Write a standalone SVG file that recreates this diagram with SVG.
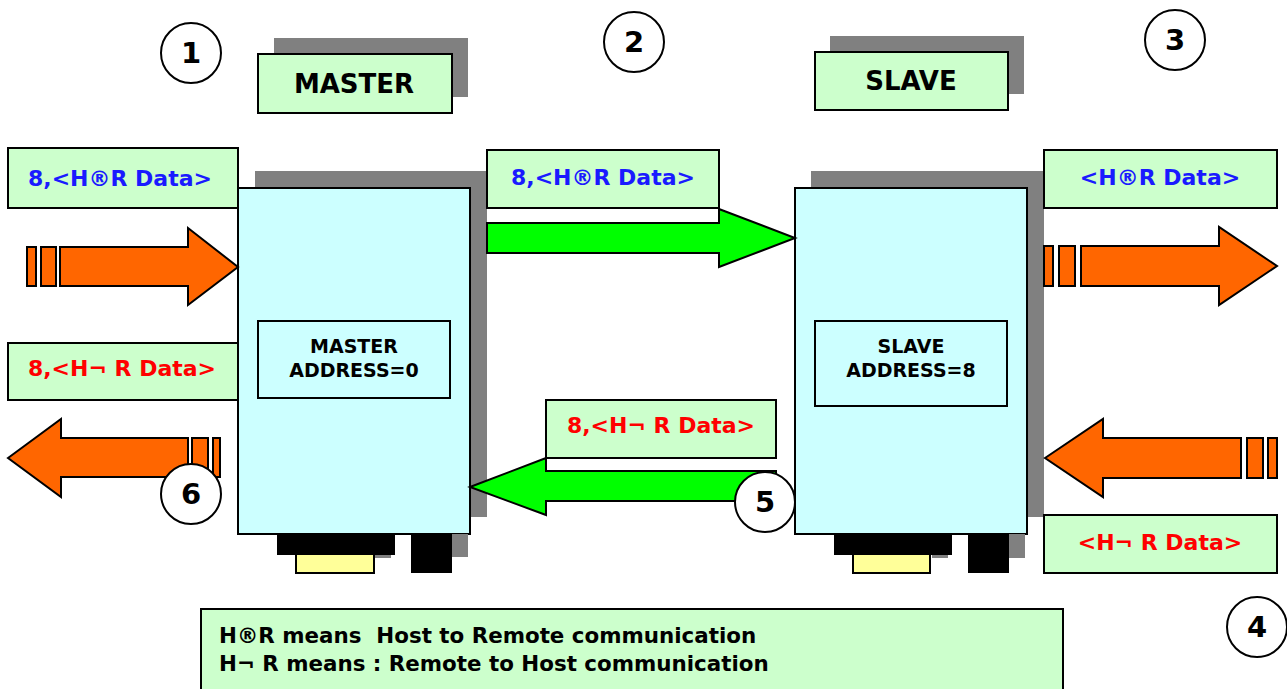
<svg xmlns="http://www.w3.org/2000/svg" width="1287" height="689" viewBox="0 0 1287 689">
<style>
.sh{fill:#808080;stroke:none}
.box{fill:#ccffff;stroke:#000;stroke-width:2}
.lbl{fill:#ccffcc;stroke:#000;stroke-width:2}
.blk{fill:#000;stroke:#000;stroke-width:1}
.yel{fill:#ffff99;stroke:#000;stroke-width:2}
.or{fill:#ff6600;stroke:#000;stroke-width:2;stroke-linejoin:miter}
.gr{fill:#00ff00;stroke:#000;stroke-width:2}
.circ{fill:#fff;stroke:#000;stroke-width:2}
text{font-family:"DejaVu Sans","Liberation Sans",sans-serif;font-weight:bold;text-anchor:middle}
.t-title{font-size:26px;fill:#000}
.t-in{font-size:19px;fill:#000}
.t-blue{font-size:22px;fill:#1a1aff}
.t-red{font-size:22px;fill:#ff0000}
.t-num{font-size:29px;fill:#000}
.t-leg{font-size:21.4px;fill:#000;text-anchor:start;white-space:pre}
</style>
<rect width="1287" height="689" fill="#fff"/>

<g id="master">
<rect class="sh" x="255" y="171" width="232" height="346"/>
<rect class="box" x="238" y="188" width="232" height="346"/>
<rect class="box" x="258" y="321" width="192" height="77"/>
<text class="t-in" x="354" y="353">MASTER</text>
<text class="t-in" x="354" y="377">ADDRESS=0</text>
<rect class="sh" x="375" y="550" width="16" height="8"/>
<rect class="blk" x="277.5" y="533.5" width="117" height="21"/>
<rect class="yel" x="296" y="554" width="78" height="19"/>
<rect class="sh" x="451" y="534" width="17" height="23"/>
<rect class="blk" x="411.5" y="534.5" width="40" height="38"/>
</g>

<g id="master-label">
<rect class="sh" x="274" y="38" width="194" height="59"/>
<rect class="lbl" x="258" y="54" width="194" height="59"/>
<text class="t-title" x="354" y="93">MASTER</text>
</g>

<g id="slave">
<rect class="sh" x="811" y="171" width="233" height="346"/>
<rect class="box" x="795" y="188" width="232" height="346"/>
<rect class="box" x="815" y="321" width="192" height="85"/>
<text class="t-in" x="911" y="353">SLAVE</text>
<text class="t-in" x="911" y="377">ADDRESS=8</text>
<rect class="sh" x="932" y="550" width="16" height="8"/>
<rect class="blk" x="834.5" y="533.5" width="117" height="21"/>
<rect class="yel" x="853" y="554" width="77" height="19"/>
<rect class="sh" x="1008" y="534" width="17" height="24"/>
<rect class="blk" x="968.5" y="534.5" width="40" height="38"/>
</g>

<g id="slave-label">
<rect class="sh" x="830" y="36" width="194" height="58"/>
<rect class="lbl" x="815" y="52" width="193" height="58"/>
<text class="t-title" x="911" y="90">SLAVE</text>
</g>

<g id="label-left-top">
<rect class="lbl" x="8" y="148" width="230" height="60"/>
<text class="t-blue" x="120" y="186">8,&lt;H®R Data&gt;</text>
</g>
<g id="label-left-mid">
<rect class="lbl" x="8" y="343" width="230" height="57"/>
<text class="t-red" x="122" y="376">8,&lt;H¬ R Data&gt;</text>
</g>
<g id="label-mid-top">
<rect class="lbl" x="487" y="150" width="232" height="58"/>
<text class="t-blue" x="603" y="185">8,&lt;H®R Data&gt;</text>
</g>
<g id="label-mid-bottom">
<rect class="lbl" x="546" y="400" width="230" height="58"/>
<text class="t-red" x="661" y="433">8,&lt;H¬ R Data&gt;</text>
</g>
<g id="label-right-top">
<rect class="lbl" x="1044" y="150" width="233" height="58"/>
<text class="t-blue" x="1160" y="185">&lt;H®R Data&gt;</text>
</g>
<g id="label-right-bottom">
<rect class="lbl" x="1044" y="515" width="233" height="58"/>
<text class="t-red" x="1160" y="550">&lt;H¬ R Data&gt;</text>
</g>

<g id="connectors">
<rect class="or" x="27" y="247" width="9" height="39"/>
<rect class="or" x="41" y="247" width="15" height="39"/>
<polygon class="or" points="60,247 188,247 188,228 238,267 188,305 188,286 60,286"/>
<polygon class="or" points="8,458 61,419 61,438 188,438 188,477 61,477 61,497"/>
<rect class="or" x="192" y="438" width="16" height="39"/>
<rect class="or" x="213" y="438" width="7" height="39"/>
<polygon class="gr" points="487,223 719,223 719,209 795,238 719,267 719,253 487,253"/>
<polygon class="gr" points="470,487 546,458 546,471 776,471 776,501 546,501 546,515"/>
<rect class="or" x="1044" y="246" width="9" height="40"/>
<rect class="or" x="1059" y="246" width="16" height="40"/>
<polygon class="or" points="1081,246 1219,246 1219,227 1277,266 1219,305 1219,286 1081,286"/>
<polygon class="or" points="1045,458 1103,419 1103,438 1241,438 1241,478 1103,478 1103,497"/>
<rect class="or" x="1247" y="438" width="16" height="40"/>
<rect class="or" x="1268" y="438" width="9" height="40"/>
</g>

<g id="step1"><circle class="circ" cx="191" cy="53" r="30"/><text class="t-num" x="191" y="63">1</text></g>
<g id="step2"><circle class="circ" cx="634" cy="42" r="30"/><text class="t-num" x="634" y="52">2</text></g>
<g id="step3"><circle class="circ" cx="1175" cy="40" r="30"/><text class="t-num" x="1175" y="50">3</text></g>
<g id="step4"><circle class="circ" cx="1257" cy="627" r="30"/><text class="t-num" x="1257" y="637">4</text></g>
<g id="step5"><circle class="circ" cx="765" cy="502" r="30"/><text class="t-num" x="765" y="512">5</text></g>
<g id="step6"><circle class="circ" cx="191" cy="494" r="30"/><text class="t-num" x="191" y="504">6</text></g>

<g id="legend">
<rect class="lbl" x="201" y="609" width="862" height="90"/>
<text class="t-leg" x="219" y="643" xml:space="preserve">H®R means  Host to Remote communication</text>
<text class="t-leg" x="219" y="671">H¬ R means : Remote to Host communication</text>
</g>
</svg>
